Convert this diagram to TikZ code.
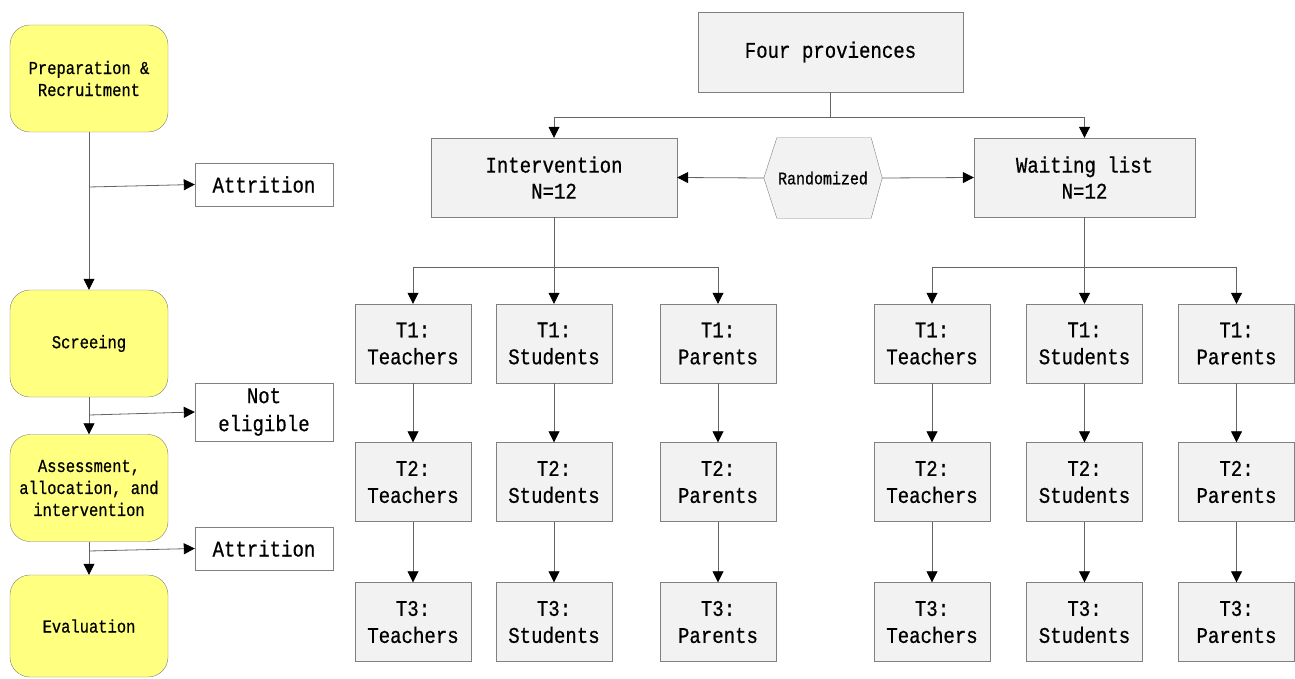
\documentclass[tikz,border=0pt]{standalone}
\usepackage{fontspec}
\newfontfamily\mono[FakeStretch=0.85,FakeBold=0.6]{Liberation Mono}
\usetikzlibrary{arrows.meta,backgrounds,calc}
\definecolor{ylw}{RGB}{255,255,128}
\definecolor{gfill}{RGB}{242,242,242}
\definecolor{edge}{RGB}{128,128,128}
\definecolor{lne}{RGB}{100,100,100}
\tikzset{
  ybox/.style={draw=edge, fill=ylw, rounded corners=20pt, minimum width=158pt, minimum height=107pt,
    align=center, inner sep=0pt, font=\mono\fontsize{18.2}{22}\selectfont},
  wbox/.style={draw=edge, fill=white, minimum width=138pt, align=center, inner sep=0pt,
    font=\mono\fontsize{22.4}{28}\selectfont},
  gbox/.style={draw=edge, fill=gfill, align=center, inner sep=0pt,
    font=\mono\fontsize{22.4}{26}\selectfont},
  tbox/.style={gbox, minimum width=116pt, minimum height=79pt, font=\mono\fontsize{22.4}{27}\selectfont},
  arr/.style={draw=lne, line width=0.8pt, -{Triangle[width=11pt,length=11pt,color=black]}},
  ln/.style={draw=lne, line width=0.8pt}
}
\begin{document}
\begin{tikzpicture}[x=1pt,y=-1pt]
\useasboundingbox (0,0) rectangle (1295,679);
% left column
\node[ybox] (prep) at (89,78.5) {Preparation \&\\Recruitment};
\node[ybox] (scr) at (89,343.5) {Screeing};
\node[ybox] (ass) at (89,488) {Assessment,\\allocation, and\\intervention};
\node[ybox, minimum height=102pt] (eva) at (89,626) {Evaluation};
\node[wbox, minimum height=43pt] (att1) at (264,184.5) {Attrition};
\node[wbox, minimum height=58pt] (note) at (264,412) {Not\\eligible};
\node[wbox, minimum height=43pt] (att2) at (264,548.5) {Attrition};
\coordinate (b1) at (89,187);
\coordinate (b2) at (89,415);
\coordinate (b3) at (89,551);
\draw[arr] (prep.south) -- (scr.north);
\draw[arr] (scr.south) -- (ass.north);
\draw[arr] (ass.south) -- (eva.north);
\draw[arr] (b1) -- (att1.west);
\draw[arr] (b2) -- (note.west);
\draw[arr] (b3) -- (att2.west);
% top
\node[gbox, minimum width=265pt, minimum height=80pt] (fp) at (830.5,52) {Four proviences};
\node[gbox, minimum width=246pt, minimum height=79pt] (int) at (554,177.5) {Intervention\\N=12};
\node[gbox, minimum width=221pt, minimum height=79pt] (wl) at (1084.5,177.5) {Waiting list\\N=12};
\node[minimum width=118pt, minimum height=80pt, inner sep=0pt, font=\mono\fontsize{17.6}{20}\selectfont] (rand) at (823,178) {Randomized};
\begin{scope}[on background layer]
\draw[draw=edge, fill=gfill] ($(rand.north west)+(13,0)$) -- ($(rand.north east)+(-11,0)$) -- (rand.east)
  -- ($(rand.south east)+(-11,0)$) -- ($(rand.south west)+(13,0)$) -- (rand.west) -- cycle;
\end{scope}
\draw[arr] (fp.south) -- ++(0,25) -| (int.north);
\draw[arr] (fp.south) -- ++(0,25) -| (wl.north);
\draw[arr] (rand.west) -- (int.east);
\draw[arr] (rand.east) -- (wl.west);
% columns
\foreach \n/\x/\w in {it/413/Teachers, is/554/Students, ip/718/Parents, wt/932/Teachers, ws/1084.5/Students, wp/1236.5/Parents}{
  \node[tbox] (\n1) at (\x,343.5) {T1:\\\w};
  \node[tbox] (\n2) at (\x,482) {T2:\\\w};
  \node[tbox] (\n3) at (\x,622) {T3:\\\w};
  \draw[arr] (\n1.south) -- (\n2.north);
  \draw[arr] (\n2.south) -- (\n3.north);
}
\draw[arr] (int.south) -- ++(0,50) -| (it1.north);
\draw[arr] (int.south) -- (is1.north);
\draw[arr] (int.south) -- ++(0,50) -| (ip1.north);
\draw[arr] (wl.south) -- ++(0,50) -| (wt1.north);
\draw[arr] (wl.south) -- (ws1.north);
\draw[arr] (wl.south) -- ++(0,50) -| (wp1.north);
\end{tikzpicture}
\end{document}
